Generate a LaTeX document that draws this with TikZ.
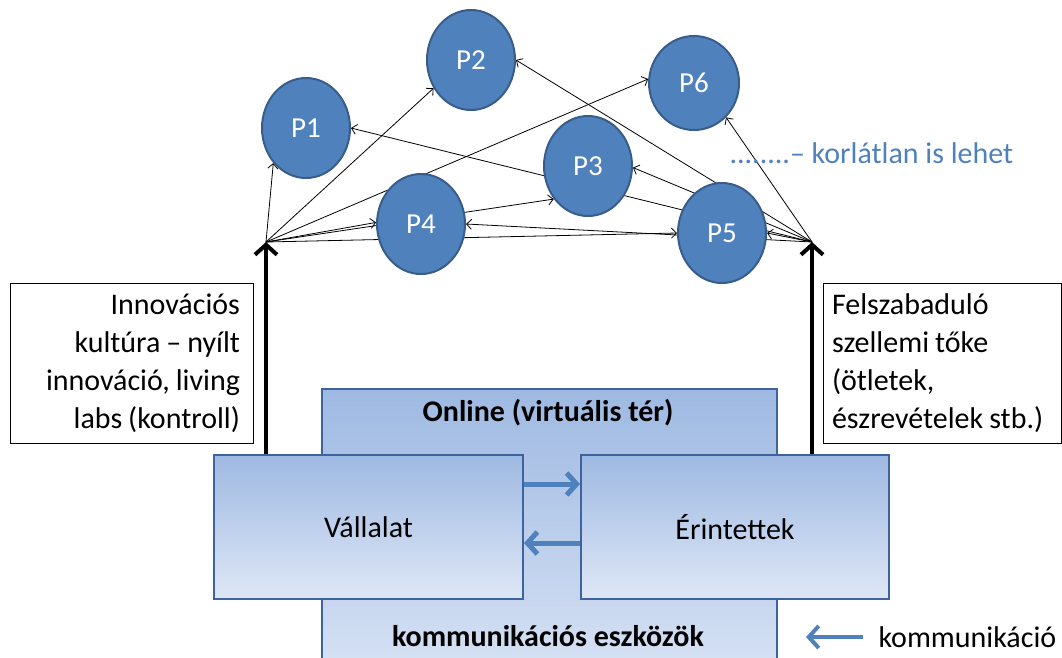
\documentclass[tikz,border=0pt]{standalone}
\usepackage{fontspec}
\setmainfont{Carlito}
\usetikzlibrary{shapes.geometric,arrows.meta,positioning,backgrounds}

\definecolor{pblue}{RGB}{79,129,189}
\definecolor{pline}{RGB}{56,93,138}
\definecolor{boxtop}{RGB}{158,185,226}
\definecolor{boxbot}{RGB}{222,231,246}
\definecolor{boxline}{RGB}{62,100,160}

\begin{document}
\begin{tikzpicture}[x=1pt, y=-1pt, every node/.style = {font=\fontsize{30}{38}\selectfont},
  person/.style = {shape=ellipse, draw=pline, line width=2pt, fill=pblue, text=white, inner sep=0pt,
    minimum width=88pt, minimum height=100pt, font=\fontsize{29}{34}\selectfont},
  link/.style = {-{Straight Barb[length=5pt,width=10pt]}, line width=0.8pt},
  area/.style = {draw=boxline, line width=2pt, top color=boxtop, bottom color=boxbot, inner sep=0pt},
  note/.style = {draw, line width=0.8pt, inner ysep=0pt, minimum height=160pt},
  lift/.style = {-{Straight Barb[length=10pt,width=22pt]}, line width=4pt},
  flow/.style = {-{Straight Barb[length=10pt,width=22pt]}, line width=5pt, draw=pblue}]
  \path[use as bounding box, clip] (0,0) rectangle (1062,657);

  % platform and the two parties
  \node[area, anchor=north west, minimum width=455pt, minimum height=320pt] (online) at (321,388) {};
  \node[font=\bfseries\fontsize{30}{38}\selectfont] (virt) at (548,413) {Online (virtuális tér)};
  \node[font=\bfseries\fontsize{30}{38}\selectfont] (eszk) at (548,636) {kommunikációs eszközök};
  \node[area, minimum width=309pt, minimum height=144pt] (vall) at (368.5,527) {Vállalat};
  \node[area, minimum width=308pt, minimum height=144pt] (erint) at (735,527) {Érintettek};
  \draw[flow] ([yshift=43pt]vall.east) -- ([yshift=43pt]erint.west);
  \draw[flow] ([yshift=-16pt]erint.west) -- ([yshift=-16pt]vall.east);

  % side notes
  \node[note, text width=217pt, inner xsep=13pt, align=right] (innov) at (131.5,363)
    {\spaceskip=6pt Innovációs\\ kultúra -- nyílt\\ innováció, living\\ labs (kontroll)};
  \node[note, text width=220pt, inner xsep=9pt, align=left] (toke) at (942,363)
    {\spaceskip=6pt Felszabaduló\\ szellemi tőke\\ (ötletek,\\ észrevételek stb.)};

  % hubs
  \coordinate (L) at (266,242);
  \coordinate (R) at (812,242);
  \draw[lift] (L |- vall.north) -- (L);
  \draw[lift] (R |- erint.north) -- (R);

  % participants
  \node[person] (P1) at (306,128) {P1};
  \node[person] (P2) at (471,60) {P2};
  \node[person] (P3) at (588,166) {P3};
  \node[person] (P4) at (421,224) {P4};
  \node[person, minimum width=90pt, minimum height=94pt] (P6) at (694,83) {P6};
  \node[person] (P5) at (722,233) {P5};
  \node[text=pblue, anchor=west] (more) at (726,153) {........-- korlátlan is lehet};

  \begin{scope}[on background layer]
    \foreach \p/\a in {P1/227, P2/217, P3/224, P4/178, P5/180, P6/175}
      \draw[link] (L) -- (\p.\a);
    \foreach \p/\a in {P1/0, P2/0, P3/358, P4/0, P5/0, P6/313}
      \draw[link] (R) -- (\p.\a);
  \end{scope}

  % legend
  \node[anchor=west] (komm) at (875,637) {kommunikáció};
  \coordinate (kommtip) at (806,637);
  \draw[flow, line width=4pt] ([xshift=-12pt]komm.west) -- (kommtip);
\end{tikzpicture}
\end{document}
